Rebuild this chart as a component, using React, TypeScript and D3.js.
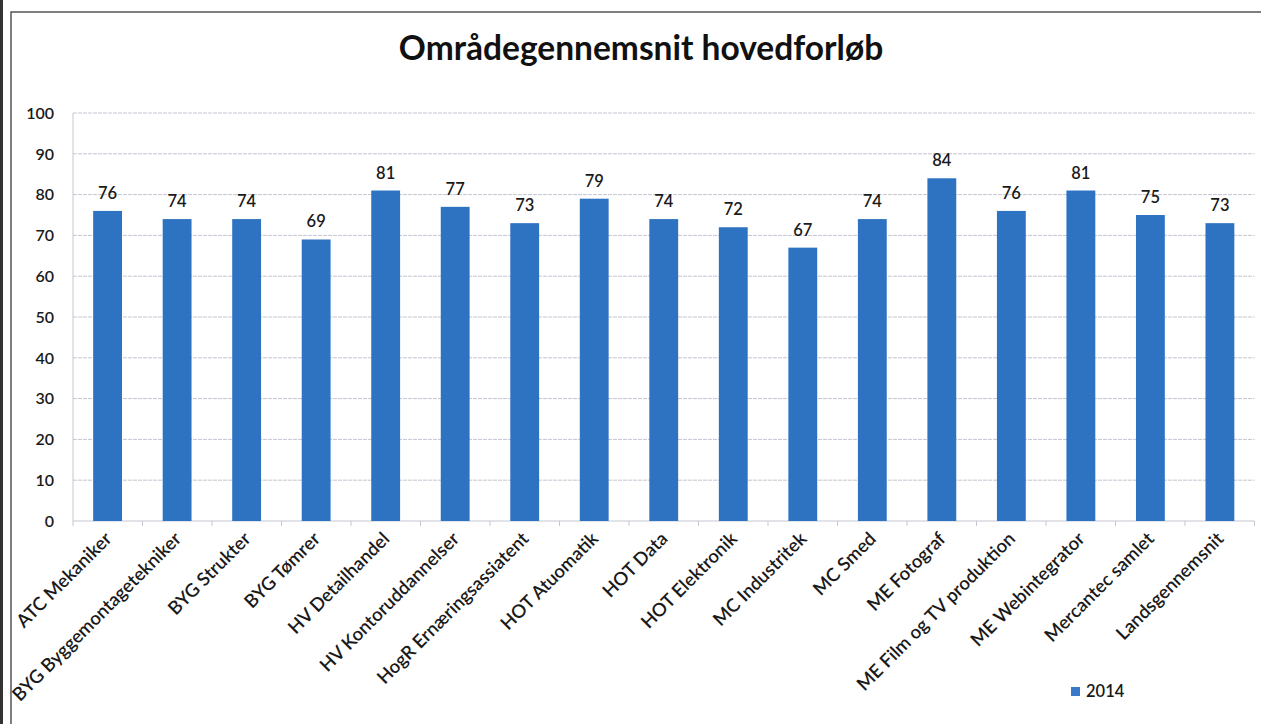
import React from "react";
import * as d3 from "d3";

const categories: string[] = [
  "ATC Mekaniker",
  "BYG Byggemontagetekniker",
  "BYG Strukter",
  "BYG Tømrer",
  "HV Detailhandel",
  "HV Kontoruddannelser",
  "HogR Ernæringsassiatent",
  "HOT Atuomatik",
  "HOT Data",
  "HOT Elektronik",
  "MC Industritek",
  "MC Smed",
  "ME Fotograf",
  "ME Film og TV produktion",
  "ME Webintegrator",
  "Mercantec samlet",
  "Landsgennemsnit",
];
const values2014: number[] = [76, 74, 74, 69, 81, 77, 73, 79, 74, 72, 67, 74, 84, 76, 81, 75, 73];
const yTicks: number[] = [0, 10, 20, 30, 40, 50, 60, 70, 80, 90, 100];
const seriesName = "2014";
const title = "Områdegennemsnit hovedforløb";

const W = 1261;
const H = 724;
const FONT = "Lato, 'Open Sans', sans-serif";
const BAR = "#2e73c2";

export default function App() {
  const x = d3.scaleBand<string>().domain(categories).range([73, 1254.5]).paddingInner(0.585).paddingOuter(0.29);
  const xb = d3.scaleBand<string>().domain(categories).range([73, 1254.5]);
  const y = d3.scaleLinear().domain([0, 100]).range([521, 113]);
  const left = 73;
  const right = 1254.5;

  return (
    <div style={{ position: "fixed", left: 0, top: 0, width: W, height: H, overflow: "hidden", background: "#fff" }}>
      <svg width={W} height={H} style={{ display: "block" }}>
        <rect x={0} y={0} width={W} height={H} fill="#fff" />
        <line x1={1.5} y1={0} x2={1.5} y2={H} stroke="#333" strokeWidth={3} />
        <path d={`M11,${H}V12H${W}`} fill="none" stroke="#555" strokeWidth={1.5} />
        <text x={641} y={60} textAnchor="middle" fontFamily={FONT} fontWeight={700} fontSize={33.5} fill="#111">
          {title}
        </text>
        {yTicks.map((t) => (
          <g key={t}>
            <line x1={left} x2={right} y1={y(t)} y2={y(t)} stroke="#c5c5d3" strokeWidth={1} strokeDasharray={t === 0 ? undefined : "4,1"} />
            <text x={54} y={y(t)} dy="0.36em" textAnchor="end" fontFamily={FONT} fontSize={16} fontWeight={600} fill="#1a1a1a">
              {t}
            </text>
          </g>
        ))}
        <line x1={left} x2={left} y1={y(100)} y2={y(0) + 5} stroke="#c5c5d3" strokeWidth={1} />
        {categories.map((c) => (
          <line key={"t" + c} x1={(xb(c) as number) + xb.bandwidth()} x2={(xb(c) as number) + xb.bandwidth()} y1={y(0)} y2={y(0) + 5} stroke="#c5c5d3" strokeWidth={1} />
        ))}
        {categories.map((c, i) => {
          const bx = x(c) as number;
          const v = values2014[i];
          return (
            <g key={c}>
              <rect x={bx} y={y(v)} width={x.bandwidth()} height={y(0) - y(v)} fill={BAR} />
              <text x={bx + x.bandwidth() / 2} y={y(v) - 12} textAnchor="middle" fontFamily={FONT} fontSize={16.5} fontWeight={600} fill="#1a1a1a">
                {v}
              </text>
            </g>
          );
        })}
        {categories.map((c) => {
          const cx = (xb(c) as number) + xb.bandwidth() / 2 + 5;
          const cy = 540;
          return (
            <text key={"l" + c} transform={`translate(${cx},${cy}) rotate(-45)`} textAnchor="end" fontFamily={FONT} fontSize={18.5} fontWeight={600} fill="#1a1a1a">
              {c}
            </text>
          );
        })}
        <rect x={1071} y={687} width={9} height={9} fill="#3a78c8" />
        <text x={1086} y={697} fontFamily={FONT} fontSize={16.5} fontWeight={600} fill="#1a1a1a">
          {seriesName}
        </text>
      </svg>
    </div>
  );
}
